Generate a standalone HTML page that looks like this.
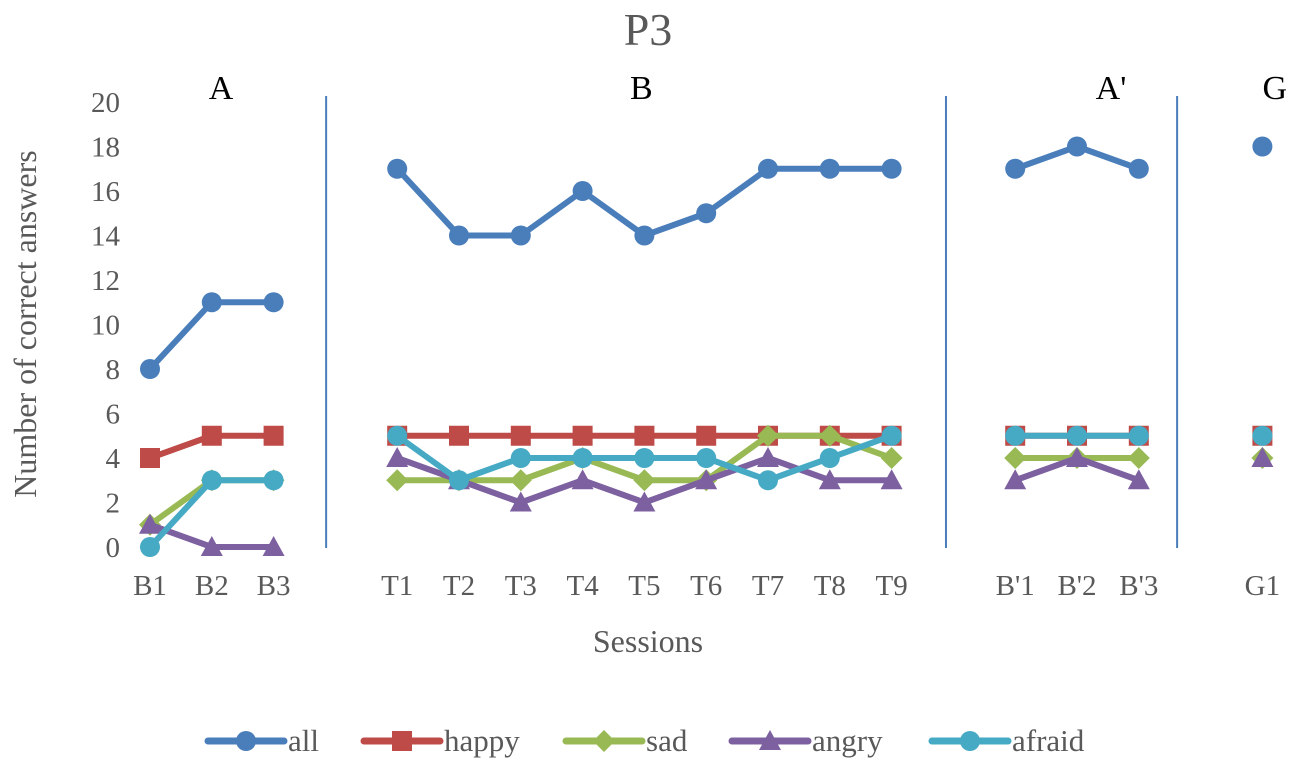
<!DOCTYPE html>
<html><head><meta charset="utf-8"><style>
body{margin:0;background:#fff;}
svg{display:block;font-family:"Liberation Serif",serif;}
</style></head><body>
<svg id="chart" width="1296" height="763" viewBox="0 0 1296 763">
<text x="648" y="45" text-anchor="middle" font-size="46" fill="#595959">P3</text>
<text transform="translate(36,324) rotate(-90)" text-anchor="middle" font-size="32" fill="#595959">Number of correct answers</text>
<text x="648" y="652" text-anchor="middle" font-size="32" fill="#595959">Sessions</text>
<g id="ticks"></g><g id="phases"></g><g id="series"></g><g id="legend"></g>
</svg>
<script>
const categories=["B1","B2","B3","","T1","T2","T3","T4","T5","T6","T7","T8","T9","","B'1","B'2","B'3","","G1"];
const yTicks=[0,2,4,6,8,10,12,14,16,18,20];
const seriesNames=["all","happy","sad","angry","afraid"];
const allVals=[8,11,11,null,17,14,14,16,14,15,17,17,17,null,17,18,17,null,18];
const happyVals=[4,5,5,null,5,5,5,5,5,5,5,5,5,null,5,5,5,null,5];
const sadVals=[1,3,3,null,3,3,3,4,3,3,5,5,4,null,4,4,4,null,4];
const angryVals=[1,0,0,null,4,3,2,3,2,3,4,3,3,null,3,4,3,null,4];
const afraidVals=[0,3,3,null,5,3,4,4,4,4,3,4,5,null,5,5,5,null,5];
const phaseLabels=["A","B","A'","G"];
const phaseCenters=[1.15,7.95,15.55,18.2];
const dividers=[2.85,12.88,16.62];

const NS="http://www.w3.org/2000/svg";
const colors=["#4a7ebb","#be4b48","#98b954","#7d60a0","#46aac5"];
const markers=["circle","square","diamond","triangle","circle"];
const X=i=>150+i*61.8;
const Y=v=>547-v*22.25;
function mk(tag,attrs,parent){const e=document.createElementNS(NS,tag);for(const k in attrs)e.setAttribute(k,attrs[k]);parent.appendChild(e);return e;}
const ticks=document.getElementById("ticks");
yTicks.forEach(t=>{const e=mk("text",{x:120,y:Y(t)+10,"text-anchor":"end","font-size":29,fill:"#595959"},ticks);e.textContent=t;

});
categories.forEach((c,i)=>{if(!c)return;const e=mk("text",{x:X(i),y:595,"text-anchor":"middle","font-size":29,fill:"#595959"},ticks);e.textContent=c;

});
const ph=document.getElementById("phases");
dividers.forEach(d=>{const l=mk("line",{x1:X(d),x2:X(d),y1:96,y2:548,stroke:"#4a7ebb","stroke-width":2},ph);

});
phaseLabels.forEach((p,i)=>{const e=mk("text",{x:X(phaseCenters[i]),y:99,"text-anchor":"middle","font-size":34,fill:"#000"},ph);e.textContent=p;

});
function marker(g,type,x,y,c,s){
 if(type==="circle")return mk("circle",{cx:x,cy:y,r:10*s,fill:c},g);
 if(type==="square")return mk("rect",{x:x-10*s,y:y-10*s,width:20*s,height:20*s,fill:c},g);
 if(type==="diamond")return mk("polygon",{points:`${x},${y-11*s} ${x+11*s},${y} ${x},${y+11*s} ${x-11*s},${y}`,fill:c},g);
 return mk("polygon",{points:`${x},${y-11*s} ${x+11*s},${y+9*s} ${x-11*s},${y+9*s}`,fill:c},g);
}
const data=[allVals,happyVals,sadVals,angryVals,afraidVals];
const sg=document.getElementById("series");
[1,2,3,4,0].forEach(si=>{
 const vals=data[si];const g=mk("g",{},sg);
 
 
 let seg=[];const segs=[];
 vals.forEach((v,i)=>{if(v===null){if(seg.length)segs.push(seg);seg=[];}else seg.push([X(i),Y(v)]);});
 if(seg.length)segs.push(seg);
 segs.forEach(s=>{if(s.length>1){const p=mk("polyline",{points:s.map(q=>q.join(",")).join(" "),fill:"none",stroke:colors[si],"stroke-width":6,"stroke-linejoin":"round"},g);
 
 }});
 vals.forEach((v,i)=>{if(v===null)return;const m=marker(g,markers[si],X(i),Y(v),colors[si],1);
 
 });
});
const lg=document.getElementById("legend");
const lx=[208,364,566,732,932];
seriesNames.forEach((n,i)=>{
 const g=mk("g",{},lg);
 
 
 mk("line",{x1:lx[i],x2:lx[i]+76,y1:741,y2:741,stroke:colors[i],"stroke-width":7,"stroke-linecap":"round"},g);
 marker(g,markers[i],lx[i]+38,741,colors[i],1);
 const t=mk("text",{x:lx[i]+80,y:751,"font-size":31,fill:"#595959"},g);t.textContent=n;
});
</script>
</body></html>
